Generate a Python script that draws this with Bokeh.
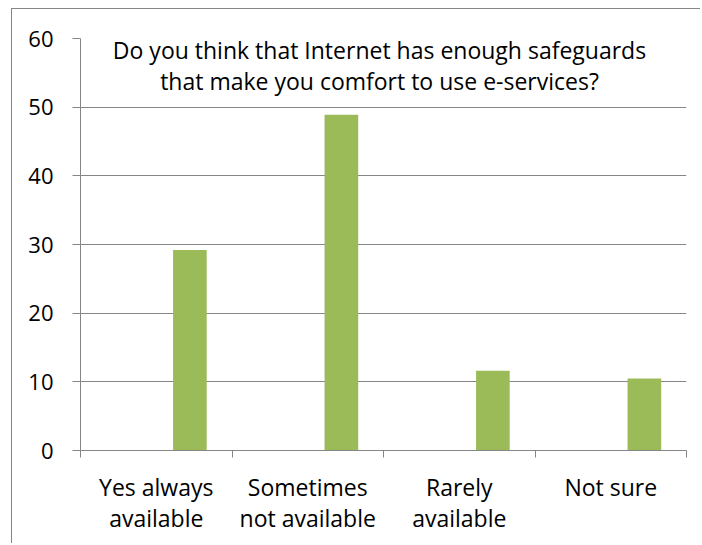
from bokeh.plotting import figure
from bokeh.models import Range1d, FixedTicker, ColumnDataSource, Label
from bokeh.transform import dodge
from bokeh.embed import file_html
from bokeh.resources import INLINE

categories = ["Yes always\navailable", "Sometimes\nnot available", "Rarely\navailable", "Not sure"]
values = [29.2, 48.9, 11.6, 10.5]
y_ticks = [0, 10, 20, 30, 40, 50, 60]
title_text = "Do you think that Internet has enough safeguards\nthat make you comfort to use e-services?"

FONT = "Open Sans"
GRAY = "#868686"
GREEN = "#9BBB59"

idx = list(range(len(categories)))
source = ColumnDataSource(data=dict(x=idx, value=values))

p = figure(width=689, height=535,
           x_range=Range1d(-0.5, len(categories) - 0.5), y_range=Range1d(0, 60),
           output_backend="svg", toolbar_location=None,
           min_border_left=68, min_border_right=15, min_border_top=29, min_border_bottom=94)
p.styles = {"margin-left": "11px", "margin-top": "8px",
            "border-left": "1px solid " + GRAY, "border-top": "1px solid " + GRAY}
p.outline_line_color = None
p.background_fill_color = "white"
p.border_fill_color = "white"

p.vbar(x=dodge("x", 0.222, range=p.x_range), top="value", width=0.222, source=source,
       fill_color=GREEN, line_color=None)

# y axis
p.yaxis.ticker = FixedTicker(ticks=y_ticks)
p.yaxis.axis_line_color = GRAY
p.yaxis.major_tick_line_color = GRAY
p.yaxis.major_tick_out = 8
p.yaxis.major_tick_in = 0
p.yaxis.minor_tick_line_color = None
p.yaxis.major_label_standoff = 19
p.yaxis.major_label_text_font = FONT
p.yaxis.major_label_text_font_size = "22px"
p.yaxis.major_label_text_color = "black"
p.ygrid.ticker = FixedTicker(ticks=y_ticks)
p.ygrid.grid_line_color = GRAY
p.xgrid.visible = False

# x axis
p.xaxis.ticker = FixedTicker(ticks=idx, minor_ticks=[i - 0.5 for i in range(len(categories) + 1)])
p.xaxis.major_label_overrides = {i: c for i, c in zip(idx, categories)}
p.xaxis.axis_line_color = GRAY
p.xaxis.major_tick_line_color = None
p.xaxis.minor_tick_line_color = GRAY
p.xaxis.minor_tick_out = 7
p.xaxis.minor_tick_in = 0
p.xaxis.major_label_standoff = 13
p.xaxis.major_label_text_font = FONT
p.xaxis.major_label_text_font_size = "23px"
p.xaxis.major_label_text_color = "black"
p.xaxis.major_label_text_line_height = 0.98

title = Label(x=(len(categories) - 1) / 2, y=60, text=title_text, text_align="center",
              text_baseline="top", x_offset=-4, y_offset=5, text_font=FONT, text_font_size="23px",
              text_color="black", text_line_height=0.98)
p.add_layout(title)

open("out.html", "w").write(file_html(p, INLINE))
